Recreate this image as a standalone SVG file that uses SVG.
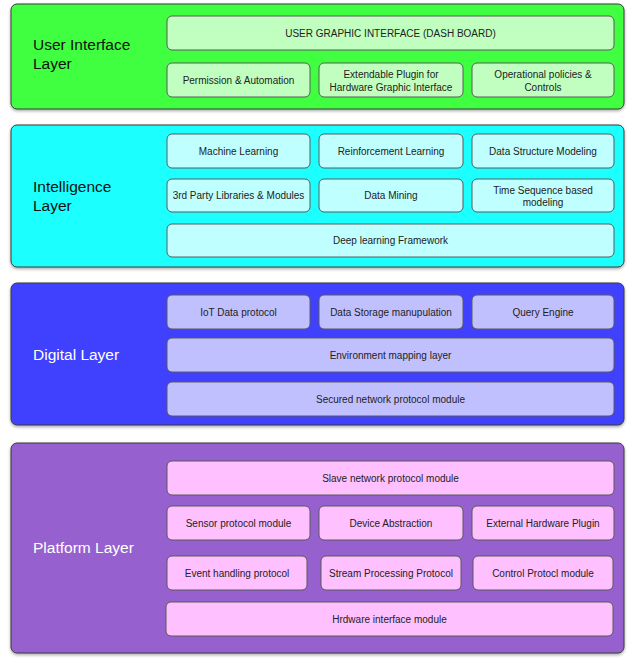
<svg xmlns="http://www.w3.org/2000/svg" width="631" height="661" viewBox="0 0 631 661">
<defs>
<filter id="sh" x="-5%" y="-5%" width="110%" height="115%">
<feDropShadow dx="0" dy="1.5" stdDeviation="1.5" flood-color="#000" flood-opacity="0.35"/>
</filter>
<style>
.layer{stroke:#3a3a3a;stroke-width:1;filter:url(#sh)}
.box{stroke:#5a5a5a;stroke-width:1}
.lt{font-family:"Liberation Sans",Arial,sans-serif;font-size:15.5px}
.bt{font-family:"Liberation Sans",Arial,sans-serif;font-size:10px;fill:#222;text-anchor:middle}
.g{fill:#c0ffc0}.c{fill:#c0ffff}.b{fill:#c0c0ff}.p{fill:#ffc0ff}
</style>
</defs>
<rect width="631" height="661" fill="#ffffff"/>

<g id="ui-layer">
<rect class="layer" x="11" y="4" width="613" height="105" rx="6" fill="#3fff3f"/>
<text class="lt" x="33" y="50" fill="#111">User Interface</text>
<text class="lt" x="33" y="69" fill="#111">Layer</text>
</g>
<g id="ui-dashboard"><rect class="box g" x="167" y="16" width="447" height="34" rx="5"/><text class="bt" x="390.5" y="36.5">USER GRAPHIC INTERFACE (DASH BOARD)</text></g>
<g id="ui-permission"><rect class="box g" x="167" y="63" width="143" height="34" rx="5"/><text class="bt" x="238.5" y="83.5">Permission &amp; Automation</text></g>
<g id="ui-plugin"><rect class="box g" x="319" y="63" width="144" height="34" rx="5"/><text class="bt" x="391" y="77.5">Extendable Plugin for</text><text class="bt" x="391" y="90.5">Hardware Graphic Interface</text></g>
<g id="ui-policies"><rect class="box g" x="472" y="63" width="142" height="34" rx="5"/><text class="bt" x="543" y="77.5">Operational policies &amp;</text><text class="bt" x="543" y="90.5">Controls</text></g>

<g id="intelligence-layer">
<rect class="layer" x="11" y="125" width="613" height="142" rx="6" fill="#1affff"/>
<text class="lt" x="33" y="192" fill="#111">Intelligence</text>
<text class="lt" x="33" y="211" fill="#111">Layer</text>
</g>
<g id="int-ml"><rect class="box c" x="167" y="134" width="143" height="34" rx="5"/><text class="bt" x="238.5" y="154.5">Machine Learning</text></g>
<g id="int-rl"><rect class="box c" x="319" y="134" width="144" height="34" rx="5"/><text class="bt" x="391" y="154.5">Reinforcement Learning</text></g>
<g id="int-dsm"><rect class="box c" x="472" y="134" width="142" height="34" rx="5"/><text class="bt" x="543" y="154.5">Data Structure Modeling</text></g>
<g id="int-3rd"><rect class="box c" x="167" y="179" width="143" height="33" rx="5"/><text class="bt" x="238.5" y="199">3rd Party Libraries &amp; Modules</text></g>
<g id="int-dm"><rect class="box c" x="319" y="179" width="144" height="33" rx="5"/><text class="bt" x="391" y="199">Data Mining</text></g>
<g id="int-ts"><rect class="box c" x="472" y="179" width="142" height="33" rx="5"/><text class="bt" x="543" y="193.5">Time Sequence based</text><text class="bt" x="543" y="205.5">modeling</text></g>
<g id="int-dl"><rect class="box c" x="167" y="224" width="447" height="33" rx="5"/><text class="bt" x="390.5" y="244">Deep learning Framework</text></g>

<g id="digital-layer">
<rect class="layer" x="11" y="283" width="613" height="142" rx="6" fill="#3f3fff"/>
<text class="lt" x="33" y="360" fill="#ffffff">Digital Layer</text>
</g>
<g id="dig-iot"><rect class="box b" x="167" y="295" width="143" height="34" rx="5"/><text class="bt" x="238.5" y="315.5">IoT Data protocol</text></g>
<g id="dig-storage"><rect class="box b" x="319" y="295" width="144" height="34" rx="5"/><text class="bt" x="391" y="315.5">Data Storage manupulation</text></g>
<g id="dig-query"><rect class="box b" x="472" y="295" width="142" height="34" rx="5"/><text class="bt" x="543" y="315.5">Query Engine</text></g>
<g id="dig-env"><rect class="box b" x="167" y="338" width="447" height="34" rx="5"/><text class="bt" x="390.5" y="358.5">Environment mapping layer</text></g>
<g id="dig-secured"><rect class="box b" x="167" y="382" width="447" height="34" rx="5"/><text class="bt" x="390.5" y="402.5">Secured network protocol module</text></g>

<g id="platform-layer">
<rect class="layer" x="11" y="443" width="613" height="210" rx="6" fill="#9661cf"/>
<text class="lt" x="33" y="553" fill="#ffffff">Platform Layer</text>
</g>
<g id="plt-slave"><rect class="box p" x="167" y="461" width="447" height="34" rx="5"/><text class="bt" x="390.5" y="481.5">Slave network protocol module</text></g>
<g id="plt-sensor"><rect class="box p" x="167" y="506" width="143" height="34" rx="5"/><text class="bt" x="238.5" y="526.5">Sensor protocol module</text></g>
<g id="plt-device"><rect class="box p" x="319" y="506" width="144" height="34" rx="5"/><text class="bt" x="391" y="526.5">Device Abstraction</text></g>
<g id="plt-external"><rect class="box p" x="472" y="506" width="142" height="34" rx="5"/><text class="bt" x="543" y="526.5">External Hardware Plugin</text></g>
<g id="plt-event"><rect class="box p" x="167" y="556" width="140" height="34" rx="5"/><text class="bt" x="237" y="576.5">Event handling protocol</text></g>
<g id="plt-stream"><rect class="box p" x="321" y="556" width="140" height="34" rx="5"/><text class="bt" x="391" y="576.5">Stream Processing Protocol</text></g>
<g id="plt-control"><rect class="box p" x="473" y="556" width="140" height="34" rx="5"/><text class="bt" x="543" y="576.5">Control Protocl module</text></g>
<g id="plt-hw"><rect class="box p" x="166" y="602" width="447" height="34" rx="5"/><text class="bt" x="389.5" y="622.5">Hrdware interface module</text></g>

<g id="connectors"></g>
</svg>
